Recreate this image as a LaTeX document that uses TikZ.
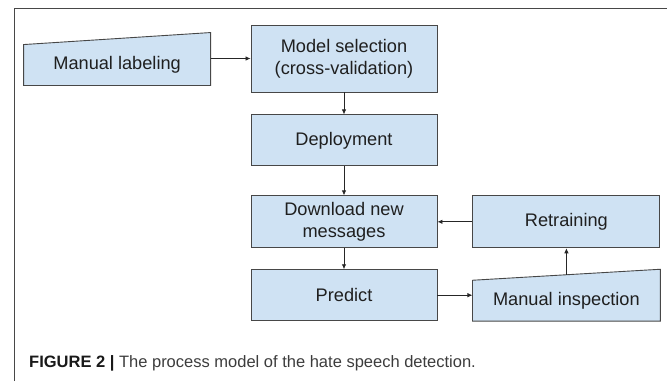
\documentclass[tikz,border=0pt]{standalone}
\usepackage{fontspec}
\setmainfont{Liberation Sans}
\usetikzlibrary{arrows.meta}
\usetikzlibrary{positioning,calc}
\usetikzlibrary{backgrounds}
\definecolor{boxblue}{HTML}{CFE2F3}
\definecolor{boxline}{HTML}{474747}
\definecolor{captext}{HTML}{3C3C3C}

\tikzset{
  stage/.style={rectangle, draw=boxline, fill=boxblue, line width=0.9pt,
    minimum width=186pt, minimum height=51pt, align=center, inner sep=0pt,
    font=\fontsize{18.2}{22}\selectfont, text=black!88},
  manual/.style={stage, draw=none, fill=none, minimum height=40pt},
  manualshape/.style={draw=boxline, fill=boxblue, line width=0.9pt},
  flow/.style={-{Latex[length=5pt,width=4.5pt]}, black!85, line width=0.8pt},
}

\begin{document}
\begin{tikzpicture}[x=1pt,y=-1pt]
    \useasboundingbox (0,0) rectangle (667,381);
    \draw[boxline, line width=0.9pt] (14,381) -- (14,8) -- (667,8);
    \node[stage, minimum height=67pt] at (344,58.5) (Model) {Model selection\\(cross-validation)};
    \node[stage, below=22pt of Model] (Deploy) {Deployment};
    \node[stage, below=29pt of Deploy, minimum height=52pt] (Download) {Download new\\messages};
    \node[stage, below=21pt of Download] (Predict) {Predict};
    \node[stage, right=35pt of Download, minimum width=187pt, minimum height=52pt] (Retrain) {Retraining};
    \node[manual, below=32pt of Retrain, minimum width=187pt] (Inspect) {Manual inspection};
    \node[manual, left=40pt of Model, yshift=-6.5pt] (Label) {Manual labeling};
    % slanted tops of the manual steps
    \begin{scope}[on background layer]
        \draw[manualshape] (Label.south west) -- (Label.north west) -- ($(Label.north east)+(0pt,12pt)$) -- (Label.south east) -- cycle;
        \draw[manualshape] (Inspect.south west) -- (Inspect.north west) -- ($(Inspect.north east)+(0pt,11pt)$) -- (Inspect.south east) -- cycle;
    \end{scope}
    \path[flow] (Label.east |- Model.west) edge (Model.west);
    \path[flow] (Model) edge (Deploy);
    \path[flow] (Deploy) edge (Download);
    \path[flow] (Download) edge (Predict);
    \path[flow] (Retrain) edge (Download);
    \path[flow] (Predict.east) edge (Predict.east -| Inspect.west);
    \path[flow] ($(Inspect.north)+(0pt,5.5pt)$) edge (Retrain.south);
    \node[anchor=base west, inner sep=0pt, text=captext, font=\fontsize{16.5}{19}\selectfont] at (29,367) (Caption)
        {{\color{black!90}\textbf{FIGURE 2 |}} The process model of the hate speech detection.};
\end{tikzpicture}
\end{document}
